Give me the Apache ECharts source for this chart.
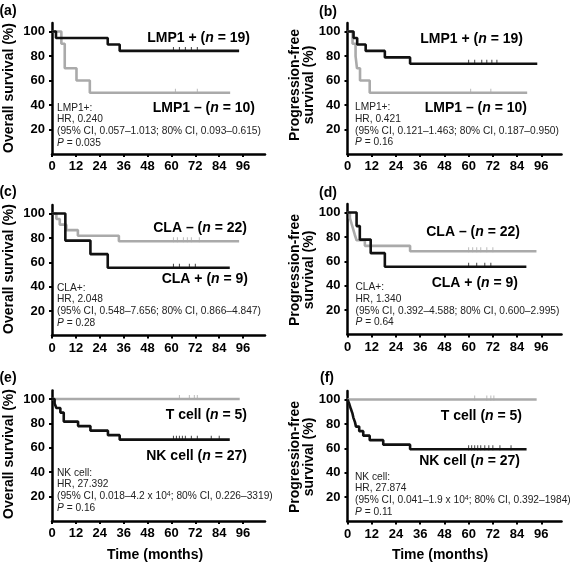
<!DOCTYPE html>
<html><head><meta charset="utf-8">
<script src="https://cdn.jsdelivr.net/npm/echarts@6/dist/echarts.min.js"></script>
<style>html,body{margin:0;padding:0;background:#fff}#c{width:572px;height:566px}</style>
</head><body><div id="c"></div>
<script>
const xTickLabels = [0, 12, 24, 36, 48, 60, 72, 84, 96];
const yTickLabels = [20, 40, 60, 80, 100];

// (a) Overall survival by LMP1
const aPosTime = [0, 2, 28, 34, 94];
const aPosSurv = [100, 94.7, 89.5, 84.2, 84.2];
const aPosCens = [61, 64, 67, 70, 73];
const aNegTime = [0, 4.7, 6.4, 12.3, 19, 89.5];
const aNegSurv = [100, 90, 70, 60, 50, 50];
const aNegCens = [62, 73];

// (b) Progression-free survival by LMP1
const bPosTime = [0, 3, 4.8, 9, 18.5, 31, 94];
const bPosSurv = [100, 94.7, 89.5, 84.2, 78.9, 73.7, 73.7];
const bPosCens = [60, 63, 66.5, 69, 71.5, 74];
const bNegTime = [0, 2.5, 4, 4.7, 6.2, 11, 89];
const bNegSurv = [100, 90, 80, 70, 60, 50, 50];
const bNegCens = [61, 71];

// (c) Overall survival by CLA
const cNegTime = [0, 2.2, 3.9, 7.2, 13, 33.6, 94];
const cNegSurv = [100, 95.5, 90.9, 86.4, 81.8, 77.3, 77.3];
const cNegCens = [61, 63, 66, 68, 70, 74];
const cPosTime = [0, 6.7, 19.3, 28, 89.3];
const cPosSurv = [100, 77.8, 66.7, 55.6, 55.6];
const cPosCens = [61, 64, 69, 72];

// (d) Progression-free survival by CLA
const dNegTime = [0, 1.2, 2, 2.8, 3.6, 4.5, 8.6, 31, 93.6];
const dNegSurv = [100, 95.5, 90.9, 86.4, 81.8, 77.3, 72.7, 68.2, 68.2];
const dNegCens = [60, 62, 64, 66, 69, 72];
const dPosTime = [0, 4.5, 6.1, 11.5, 18.5, 88.6];
const dPosSurv = [100, 88.9, 77.8, 66.7, 55.6, 55.6];
const dPosCens = [60, 64, 68, 71];

// (e) Overall survival by cell type
const eTTime = [0, 94.3];
const eTSurv = [100, 100];
const eTCens = [64, 69, 71.5, 73];
const eNkTime = [0, 1.3, 2.2, 4.2, 5.9, 13.1, 19.3, 28.1, 34, 89.3];
const eNkSurv = [100, 96.3, 92.6, 88.9, 81.5, 77.8, 74.1, 70.4, 66.7, 66.7];
const eNkCens = [61, 62.5, 64, 65.5, 67, 70, 73, 80, 84];

// (f) Progression-free survival by cell type
const fTTime = [0, 93.7];
const fTSurv = [100, 100];
const fTCens = [63, 69, 71, 72.5];
const fNkTime = [0, 0.9, 1.6, 2.4, 2.9, 3.7, 4.2, 5.8, 7.8, 11, 17.7, 31, 88.7];
const fNkSurv = [100, 96.3, 92.6, 88.9, 85.2, 81.5, 77.8, 74.1, 70.4, 66.7, 63, 59.3, 59.3];
const fNkCens = [60, 61.5, 63, 64.5, 66, 68, 70, 72, 75.5, 81];

const BLACK = '#111111';
const GRAY = '#aaaaaa';
const FONT = "'Liberation Sans', Arial, Helvetica, sans-serif";

const panels = [
  { grid: {left: 52, top: 23, width: 213, height: 131}, xMax: 107,
    curves: [[aNegTime, aNegSurv, aNegCens, GRAY], [aPosTime, aPosSurv, aPosCens, BLACK]] },
  { grid: {left: 347.5, top: 23, width: 214, height: 131}, xMax: 106,
    curves: [[bNegTime, bNegSurv, bNegCens, GRAY], [bPosTime, bPosSurv, bPosCens, BLACK]] },
  { grid: {left: 52, top: 205, width: 213, height: 130.5}, xMax: 107,
    curves: [[cNegTime, cNegSurv, cNegCens, GRAY], [cPosTime, cPosSurv, cPosCens, BLACK]] },
  { grid: {left: 347.5, top: 204, width: 214, height: 130.5}, xMax: 106,
    curves: [[dNegTime, dNegSurv, dNegCens, GRAY], [dPosTime, dPosSurv, dPosCens, BLACK]] },
  { grid: {left: 52, top: 390.5, width: 213, height: 130.5}, xMax: 107,
    curves: [[eTTime, eTSurv, eTCens, GRAY], [eNkTime, eNkSurv, eNkCens, BLACK]] },
  { grid: {left: 347.5, top: 391, width: 214, height: 130.5}, xMax: 106,
    curves: [[fTTime, fTSurv, fTCens, GRAY], [fNkTime, fNkSurv, fNkCens, BLACK]] }
];

function survAt(t, times, surv) {
  let v = surv[0];
  for (let i = 0; i < times.length; i++) { if (times[i] <= t) v = surv[i]; }
  return v;
}

const grids = [], xAxes = [], yAxes = [], series = [];
panels.forEach((p, i) => {
  grids.push(Object.assign({containLabel: false, outerBoundsMode: 'none'}, p.grid));
  xAxes.push({
    gridIndex: i, type: 'value', min: 0, max: p.xMax, interval: 12,
    axisLine: {show: true, onZero: false, lineStyle: {color: '#000', width: 2.5}},
    axisTick: {show: true, customValues: xTickLabels, length: 3, lineStyle: {color: '#000', width: 2}},
    axisLabel: {customValues: xTickLabels, color: '#000', fontWeight: 'bold', fontSize: 13, fontFamily: FONT, margin: 6,
      formatter: v => (v <= 96 ? String(v) : '')},
    splitLine: {show: false}
  });
  yAxes.push({
    gridIndex: i, type: 'value', min: 0, max: 107, interval: 20,
    axisLine: {show: true, onZero: false, lineStyle: {color: '#000', width: 2.5}},
    axisTick: {show: true, customValues: yTickLabels, length: 3, lineStyle: {color: '#000', width: 2}},
    axisLabel: {customValues: yTickLabels, color: '#000', fontWeight: 'bold', fontSize: 13, fontFamily: FONT, margin: 7,
      formatter: v => (v > 0 && v <= 100 ? String(v) : '')},
    splitLine: {show: false}
  });
  p.curves.forEach(([times, surv, cens, color]) => {
    series.push({
      type: 'line', step: 'end', xAxisIndex: i, yAxisIndex: i, showSymbol: false, symbol: 'none',
      silent: true, animation: false,
      lineStyle: {color: color, width: 2.6}, itemStyle: {color: color},
      data: times.map((t, k) => [t, surv[k]])
    });
    series.push({
      type: 'scatter', xAxisIndex: i, yAxisIndex: i, symbol: 'rect', symbolSize: [1, 5], symbolOffset: [0, -1.5],
      silent: true, animation: false, itemStyle: {color: color, opacity: 0.8},
      data: cens.map(t => [t, survAt(t, times, surv)])
    });
  });
});

function txt(x, y, text, opt) {
  return Object.assign({type: 'text', x: x, y: y, silent: true,
    style: Object.assign({text: text, fill: '#000', fontFamily: FONT}, opt.style || {})}, opt.el || {});
}

const bold14 = {fontWeight: 'bold', fontSize: 14, fontFamily: FONT, fill: '#000'};
const groupRich = {b: bold14, i: Object.assign({}, bold14, {fontStyle: 'italic'})};
function groupLabel(xRight, yMid, pre, n) {
  return txt(xRight, yMid, '{b|' + pre + ' (}{i|n}{b| = ' + n + ')}',
    {style: {align: 'right', verticalAlign: 'middle', rich: groupRich}});
}
const annRich = {
  i: {fontStyle: 'italic', fontSize: 10.2, fontFamily: FONT, fill: '#222', lineHeight: 11.7},
  s: {fontSize: 7, fontFamily: FONT, fill: '#222', lineHeight: 6, verticalAlign: 'top'}
};
function annot(x, yTop, lines) {
  return txt(x, yTop, lines.join('\n'),
    {style: {align: 'left', verticalAlign: 'top', fontSize: 10.2, fill: '#222', lineHeight: 11.7, rich: annRich}});
}
function panelLabel(x, y, s) {
  return txt(x, y, s, {style: Object.assign({align: 'center', verticalAlign: 'middle'}, bold14)});
}
function yTitle(x, y, s) {
  return txt(x, y, s, {style: Object.assign({align: 'center', verticalAlign: 'middle', lineHeight: 14}, bold14),
    el: {rotation: Math.PI / 2}});
}

const graphics = [
  panelLabel(8, 11, '(a)'), panelLabel(328, 12.5, '(b)'),
  panelLabel(8, 192, '(c)'), panelLabel(328, 193, '(d)'),
  panelLabel(8, 378, '(e)'), panelLabel(327, 378.5, '(f)'),

  yTitle(9, 88, 'Overall survival (%)'),
  yTitle(302, 85, 'Progression-free\nsurvival (%)'),
  yTitle(9, 269, 'Overall survival (%)'),
  yTitle(302, 270, 'Progression-free\nsurvival (%)'),
  yTitle(9, 454, 'Overall survival (%)'),
  yTitle(302, 457, 'Progression-free\nsurvival (%)'),

  groupLabel(250, 38, 'LMP1 +', 19), groupLabel(255, 108, 'LMP1 –', 10),
  groupLabel(523, 39, 'LMP1 +', 19), groupLabel(527, 108, 'LMP1 –', 10),
  groupLabel(247, 228, 'CLA –', 22), groupLabel(248, 279, 'CLA +', 9),
  groupLabel(520, 232, 'CLA –', 22), groupLabel(518, 283, 'CLA +', 9),
  groupLabel(247, 415, 'T cell', 5), groupLabel(247, 456, 'NK cell', 27),
  groupLabel(522, 416, 'T cell', 5), groupLabel(520, 461, 'NK cell', 27),

  annot(57, 102, ['LMP1+:', 'HR, 0.240', '(95% CI, 0.057–1.013; 80% CI, 0.093–0.615)', '{i|P} = 0.035']),
  annot(355, 101.5, ['LMP1+:', 'HR, 0.421', '(95% CI, 0.121–1.463; 80% CI, 0.187–0.950)', '{i|P} = 0.16']),
  annot(57, 282, ['CLA+:', 'HR, 2.048', '(95% CI, 0.548–7.656; 80% CI, 0.866–4.847)', '{i|P} = 0.28']),
  annot(355.5, 281.5, ['CLA+:', 'HR, 1.340', '(95% CI, 0.392–4.588; 80% CI, 0.600–2.995)', '{i|P} = 0.64']),
  annot(57, 467, ['NK cell:', 'HR, 27.392', '(95% CI, 0.018–4.2 x 10{s|4}; 80% CI, 0.226–3319)', '{i|P} = 0.16']),
  annot(355, 471, ['NK cell:', 'HR, 27.874', '(95% CI, 0.041–1.9 x 10{s|4}; 80% CI, 0.392–1984)', '{i|P} = 0.11']),

  txt(155, 555, 'Time (months)', {style: Object.assign({align: 'center', verticalAlign: 'middle'}, bold14)}),
  txt(440, 555, 'Time (months)', {style: Object.assign({align: 'center', verticalAlign: 'middle'}, bold14)})
];

const chart = echarts.init(document.getElementById('c'), null, {renderer: 'canvas'});
chart.setOption({
  backgroundColor: '#fff',
  animation: false,
  textStyle: {fontFamily: FONT},
  grid: grids, xAxis: xAxes, yAxis: yAxes, series: series,
  graphic: graphics
});
</script></body></html>
